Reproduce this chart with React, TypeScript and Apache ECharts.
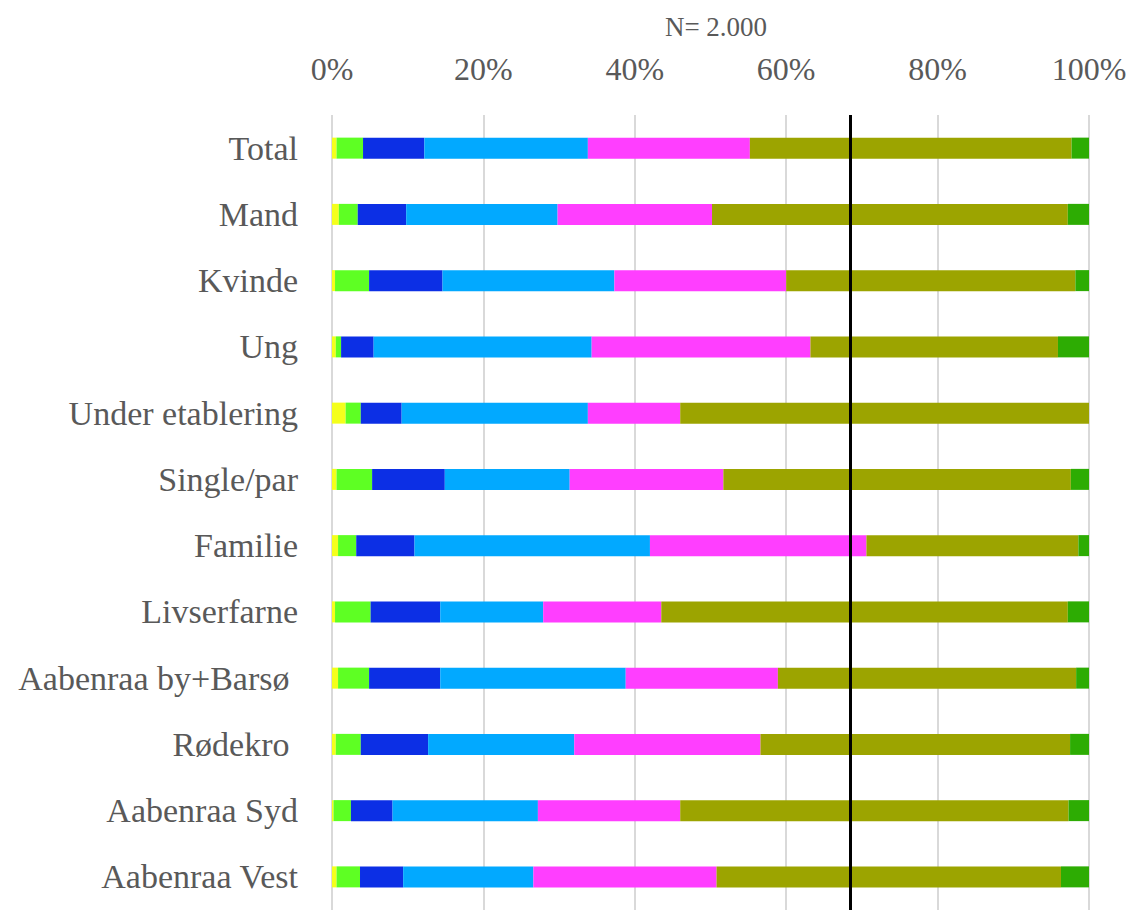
import React, { useEffect, useRef } from "react";
import * as echarts from "echarts";

const categories = [
  "Total",
  "Mand",
  "Kvinde",
  "Ung",
  "Under etablering",
  "Single/par",
  "Familie",
  "Livserfarne",
  "Aabenraa by+Barsø ",
  "Rødekro ",
  "Aabenraa Syd",
  "Aabenraa Vest",
];

const seriesNames = ["Gruppe 1", "Gruppe 2", "Gruppe 3", "Gruppe 4", "Gruppe 5", "Gruppe 6", "Gruppe 7"];

const yellowVals = [0.6, 0.9, 0.4, 0.5, 1.8, 0.6, 0.8, 0.4, 0.8, 0.5, 0.2, 0.6];
const limeVals = [3.5, 2.5, 4.5, 0.7, 2.0, 4.7, 2.4, 4.7, 4.1, 3.3, 2.3, 3.1];
const blueVals = [8.1, 6.4, 9.7, 4.3, 5.4, 9.6, 7.7, 9.2, 9.4, 8.9, 5.5, 5.7];
const lightBlueVals = [21.6, 20.0, 22.7, 28.8, 24.6, 16.5, 31.1, 13.6, 24.5, 19.3, 19.2, 17.2];
const magentaVals = [21.4, 20.4, 22.7, 28.9, 12.2, 20.3, 28.6, 15.6, 20.1, 24.6, 18.8, 24.2];
const oliveVals = [42.5, 47.0, 38.2, 32.7, 54.0, 45.9, 28.0, 53.7, 39.4, 40.9, 51.3, 45.5];
const greenVals = [2.3, 2.8, 1.8, 4.1, 0, 2.4, 1.4, 2.8, 1.7, 2.5, 2.7, 3.7];

const referenceLine = 68.5;
const titleText = "N= 2.000";
const xTicks = { min: 0, max: 100, interval: 20 };

const colors = ["#f4ff1c", "#5eff23", "#0c2fe5", "#02a9ff", "#ff3eff", "#9ca400", "#2dac03"];
const allVals = [yellowVals, limeVals, blueVals, lightBlueVals, magentaVals, oliveVals, greenVals];

const FONT = "'Liberation Serif', 'Times New Roman', serif";
const TEXT = "#595959";

export default function App() {
  const ref = useRef<HTMLDivElement>(null);

  useEffect(() => {
    if (!ref.current) return;
    const chart = echarts.init(ref.current, null, { renderer: "svg" });
    const series: any[] = allVals.map((vals, i) => ({
      name: seriesNames[i],
      type: "bar",
      stack: "total",
      barWidth: 21,
      data: vals,
      itemStyle: { color: colors[i] },
      emphasis: { disabled: true },
      ...(i === allVals.length - 1
        ? {
            markLine: {
              silent: true,
              symbol: "none",
              label: { show: false },
              lineStyle: { color: "#000000", width: 3, type: "solid" },
              data: [{ xAxis: referenceLine }],
            },
          }
        : {}),
    }));

    chart.setOption({
      animation: false,
      backgroundColor: "#ffffff",
      title: {
        text: titleText,
        left: 711,
        textAlign: "center",
        top: 8,
        textStyle: { fontFamily: FONT, fontSize: 27, fontWeight: "normal", color: TEXT },
      },
      grid: { left: 332, right: 44, top: 115, height: 800, containLabel: false },
      xAxis: {
        type: "value",
        position: "top",
        min: xTicks.min,
        max: xTicks.max,
        interval: xTicks.interval,
        axisLine: { show: false },
        axisTick: { show: false },
        splitLine: { show: true, lineStyle: { color: "#d9d9d9", width: 2 } },
        axisLabel: {
          formatter: "{value}%",
          fontFamily: FONT,
          fontSize: 32,
          color: TEXT,
          margin: 30,
        },
      },
      yAxis: {
        type: "category",
        inverse: true,
        data: categories,
        axisLine: { show: false },
        axisTick: { show: false },
        axisLabel: {
          fontFamily: FONT,
          fontSize: 34,
          color: TEXT,
          margin: 34,
        },
      },
      series,
    });
    return () => chart.dispose();
  }, []);

  return (
    <div
      ref={ref}
      style={{ position: "fixed", left: 0, top: 0, width: 1133, height: 910, background: "#fff" }}
    />
  );
}
